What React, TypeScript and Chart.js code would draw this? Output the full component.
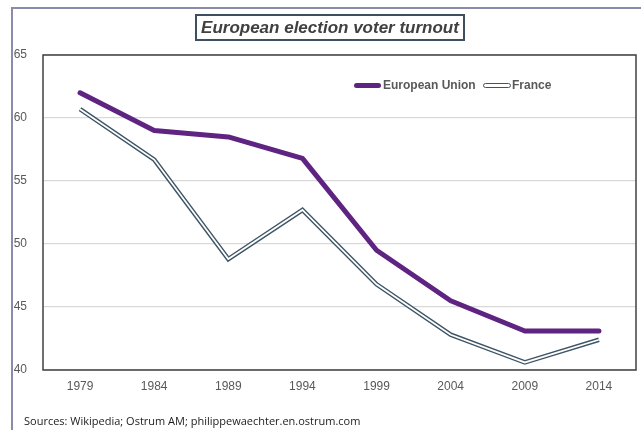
import React, { useEffect, useRef } from "react";
import { Chart, registerables } from "chart.js";

Chart.register(...registerables);

const years = ["1979", "1984", "1989", "1994", "1999", "2004", "2009", "2014"];
const euTurnout = [62.0, 59.0, 58.5, 56.8, 49.5, 45.5, 43.1, 43.1];
const franceTurnout = [60.7, 56.7, 48.8, 52.7, 46.8, 42.8, 40.6, 42.4];
const yMin = 40;
const yMax = 65;
const yStep = 5;

const EU_COLOR = "#5f2382";
const FR_COLOR = "#3e5566";
const TICK_FONT = "'Liberation Sans', Arial, sans-serif";

const plotBorder = {
  id: "plotBorder",
  afterDatasetsDraw(chart: any) {
    const { ctx, chartArea } = chart;
    ctx.save();
    ctx.strokeStyle = "#404040";
    ctx.lineWidth = 1.5;
    ctx.strokeRect(chartArea.left, chartArea.top, chartArea.right - chartArea.left, chartArea.bottom - chartArea.top);
    ctx.restore();
  },
};

export default function App() {
  const canvasRef = useRef<HTMLCanvasElement | null>(null);

  useEffect(() => {
    if (!canvasRef.current) return;
    const chart = new Chart(canvasRef.current, {
      type: "line",
      data: {
        labels: years,
        datasets: [
          {
            label: "European Union",
            data: euTurnout,
            borderColor: EU_COLOR,
            borderWidth: 5,
            pointRadius: 0,
            tension: 0,
            borderJoinStyle: "round",
            borderCapStyle: "round",
            order: 2,
          },
          {
            label: "France",
            data: franceTurnout,
            borderColor: FR_COLOR,
            borderWidth: 4.6,
            pointRadius: 0,
            tension: 0,
            borderJoinStyle: "miter",
            order: 1,
          },
          {
            label: "France (inner)",
            data: franceTurnout,
            borderColor: "#ffffff",
            borderWidth: 1.8,
            pointRadius: 0,
            tension: 0,
            borderJoinStyle: "miter",
            order: 0,
          },
        ],
      },
      options: {
        responsive: false,
        maintainAspectRatio: false,
        animation: false,
        layout: { padding: { left: 0, right: 5, top: 55, bottom: 30 } },
        plugins: {
          legend: { display: false },
          title: { display: false },
          tooltip: { enabled: false },
        },
        scales: {
          x: {
            offset: true,
            grid: { display: false, drawTicks: false },
            border: { display: false },
            ticks: {
              color: "#595959",
              font: { family: TICK_FONT, size: 12 },
              padding: 9,
              maxRotation: 0,
            },
            afterFit(scale: any) {
              scale.height = 30;
            },
          },
          y: {
            min: yMin,
            max: yMax,
            grid: { color: "#d9d9d9", lineWidth: 1.2, drawTicks: false },
            border: { display: false },
            ticks: {
              stepSize: yStep,
              color: "#595959",
              font: { family: TICK_FONT, size: 12 },
              padding: 16,
            },
            afterFit(scale: any) {
              scale.width = 43;
            },
          },
        },
      },
      plugins: [plotBorder],
    });
    return () => chart.destroy();
  }, []);

  const legendText: React.CSSProperties = {
    position: "absolute",
    top: 78,
    fontFamily: TICK_FONT,
    fontWeight: "bold",
    fontSize: 12,
    color: "#595959",
    lineHeight: "14px",
    whiteSpace: "nowrap",
  };

  return (
    <div
      style={{
        position: "fixed",
        left: 0,
        top: 0,
        width: 641,
        height: 430,
        background: "#ffffff",
        overflow: "hidden",
      }}
    >
      <canvas ref={canvasRef} width={641} height={430} style={{ position: "absolute", left: 0, top: 0 }} />
      {/* outer frame */}
      <div style={{ position: "absolute", left: 11, top: 7, width: 1.5, height: 423, background: "#8a8aaa" }} />
      <div style={{ position: "absolute", left: 11, top: 7, width: 630, height: 1.5, background: "#8a8aaa" }} />
      {/* title */}
      <div
        style={{
          position: "absolute",
          left: 195,
          top: 14,
          width: 270,
          height: 27,
          boxSizing: "border-box",
          border: "2px solid #3e5060",
          display: "flex",
          alignItems: "center",
          justifyContent: "center",
          fontFamily: TICK_FONT,
          fontWeight: "bold",
          fontStyle: "italic",
          fontSize: 17,
          color: "#404040",
          whiteSpace: "nowrap",
        }}
      >
        European election voter turnout
      </div>
      {/* legend */}
      <div style={{ position: "absolute", left: 354, top: 82.5, width: 27, height: 5, borderRadius: 2.5, background: EU_COLOR }} />
      <div style={{ ...legendText, left: 383 }}>European Union</div>
      <div
        style={{
          position: "absolute",
          left: 483,
          top: 82.5,
          width: 28,
          height: 5,
          boxSizing: "border-box",
          borderRadius: 2.5,
          border: `1.6px solid ${FR_COLOR}`,
          background: "#ffffff",
        }}
      />
      <div style={{ ...legendText, left: 512 }}>France</div>
      {/* sources */}
      <div
        style={{
          position: "absolute",
          left: 24,
          top: 413,
          fontFamily: "'Open Sans', sans-serif",
          fontSize: 11,
          color: "#222222",
          lineHeight: "16px",
          whiteSpace: "nowrap",
        }}
      >
        Sources: Wikipedia; Ostrum AM; philippewaechter.en.ostrum.com
      </div>
    </div>
  );
}
